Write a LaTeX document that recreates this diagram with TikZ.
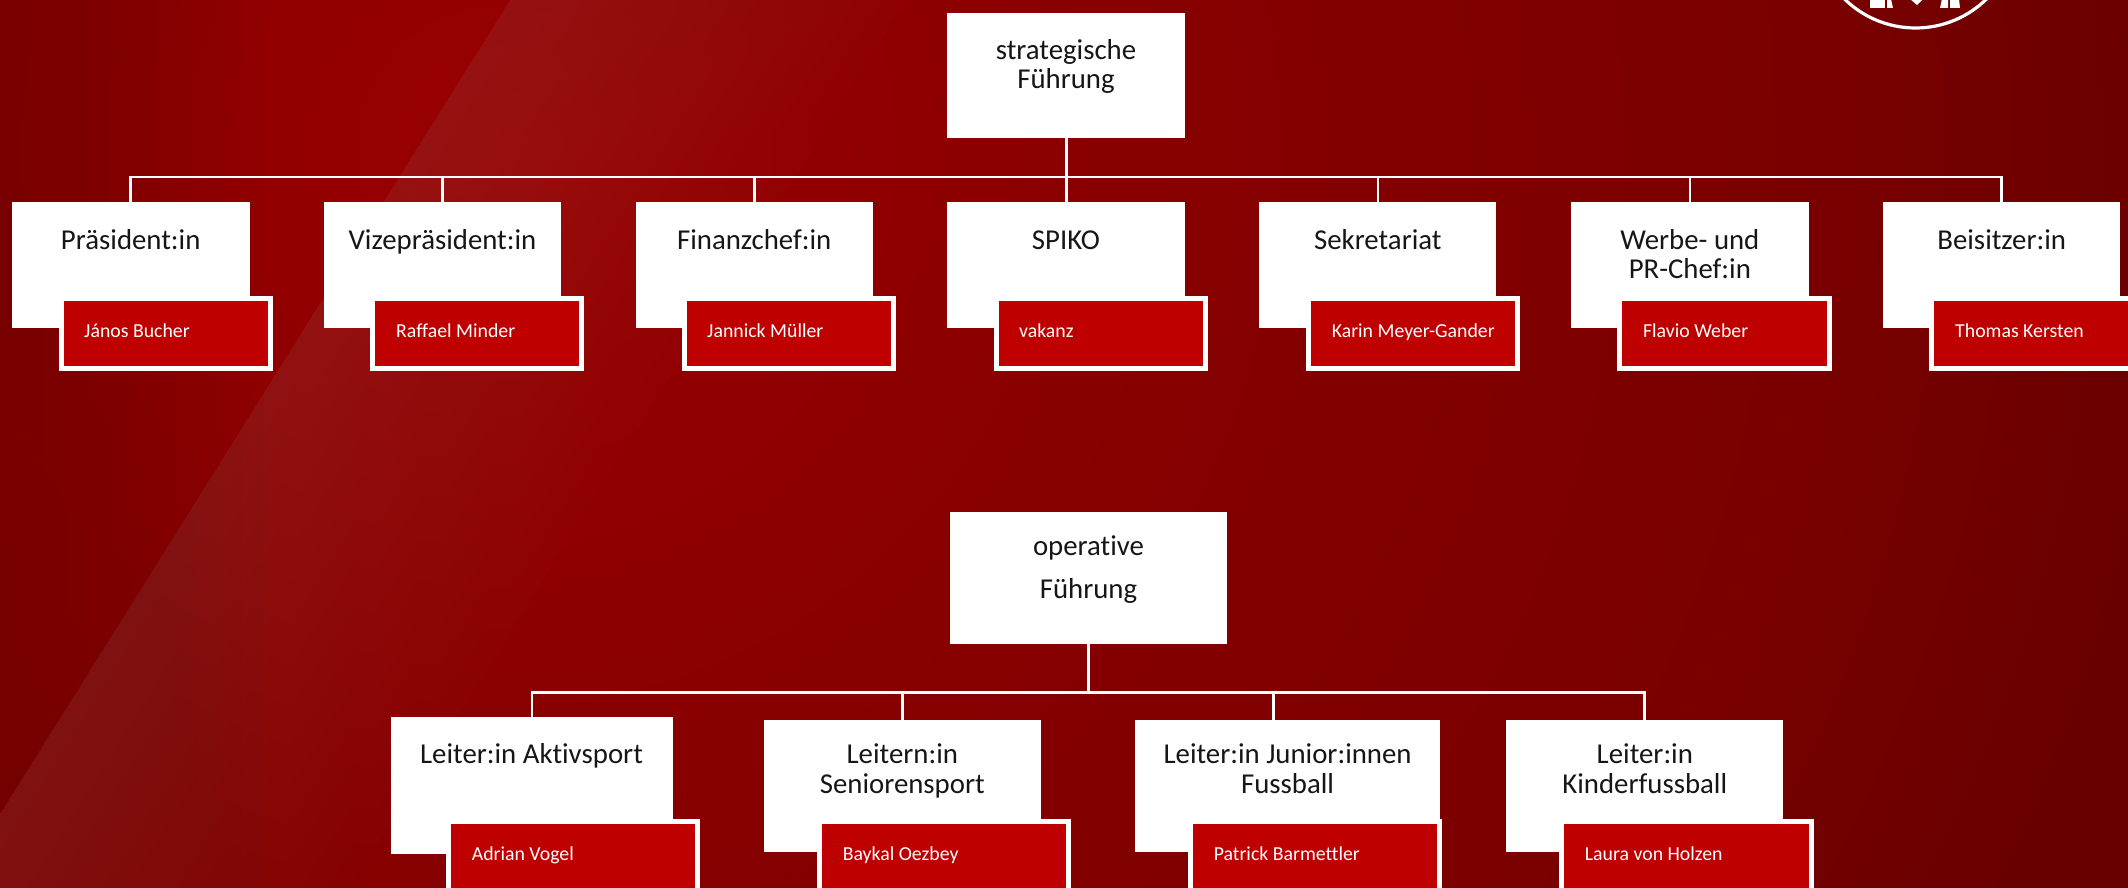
\documentclass[tikz,border=0pt]{standalone}
\usepackage{fontspec}
\setmainfont{Carlito}[Ligatures=NoCommon]
\definecolor{bgA}{HTML}{980000}
\definecolor{bgB}{HTML}{8C0000}
\definecolor{bgC}{HTML}{840000}
\definecolor{bgD}{HTML}{7A0000}
\definecolor{bgE}{HTML}{680000}
\definecolor{redfill}{HTML}{BF0000}
\definecolor{inktext}{HTML}{161616}
\pgfdeclareradialshading{bgrad}{\pgfpoint{0bp}{0bp}}{color(0bp)=(bgA); color(6.25bp)=(bgB); color(10bp)=(bgC); color(16.25bp)=(bgD); color(21.25bp)=(bgE); color(50bp)=(bgE)}
\tikzset{
  whitebox/.style={fill=white,draw=none,inner sep=0pt,outer sep=0pt},
  redbox/.style={fill=redfill,draw=white,line width=5pt,inner sep=0pt,outer sep=0pt},
  titletext/.style={anchor=base,inner sep=0pt,text=inktext,font=\fontsize{28.8}{29}\selectfont},
  nametext/.style={anchor=base west,inner sep=0pt,text=white,font=\fontsize{19.8}{20}\selectfont},
  conn/.style={draw=white,line width=2.6pt},
}
% name, style, x1, y1, x2, y2
\newcommand{\rectnode}[6]{\node[#2,minimum width={(#5-#3)*1pt},minimum height={(#6-#4)*1pt}] (#1) at ({(#3+#5)/2},{(#4+#6)/2}) {};}
\begin{document}
\begin{tikzpicture}[x=1pt,y=-1pt]
\useasboundingbox (0,0) rectangle (2128,888);
\clip (0,0) rectangle (2128,888);
% background
\shade[shading=bgrad] (500,150) circle (2000);
\foreach \i in {1,...,12}{
  \fill[black,opacity=0.0065] (0,0) rectangle ({\i*22},888);
}
\foreach \i in {1,...,16}{
  \begin{scope}[shift={(510,0)},rotate=-32.07]
    \fill[white,opacity=0.0072] (0,-1400) rectangle ({\i*21},1400);
  \end{scope}
}
% logo
\draw[white,line width=3.2pt] (1915.5,-73.5) circle (101.5);
\fill[white] (1870,-1)--(1885,-1)--(1885,8)--(1870,8)--cycle;
\fill[white] (1887,-1)--(1891,-1)--(1893,8)--(1887,8)--cycle;
\fill[white] (1910,-1)--(1923,-1)--(1917,5)--cycle;
\fill[white] (1942,-1)--(1948,-1)--(1948,8)--(1940,8)--cycle;
\fill[white] (1950,-1)--(1959,-1)--(1960,8)--(1950,8)--cycle;
% bus coordinates
\coordinate (busT) at (0,177);
\coordinate (busB) at (0,692.7);
% boxes top
\rectnode{strat}{whitebox}{947.4}{12.7}{1185.2}{138}
\rectnode{praes}{whitebox}{12}{202}{249.5}{328}
\rectnode{vize}{whitebox}{324}{202}{561}{328}
\rectnode{finanz}{whitebox}{635.5}{202}{873}{328}
\rectnode{spiko}{whitebox}{947.4}{202}{1185.2}{328}
\rectnode{sekr}{whitebox}{1259.2}{202}{1496.4}{328}
\rectnode{werbe}{whitebox}{1571}{202}{1808.7}{328}
\rectnode{beis}{whitebox}{1883}{202}{2120.3}{328}
% boxes bottom
\rectnode{oper}{whitebox}{950}{512}{1227}{644}
\rectnode{aktiv}{whitebox}{391.2}{717.3}{672.7}{854}
\rectnode{senior}{whitebox}{764}{720}{1041}{851.7}
\rectnode{junior}{whitebox}{1135}{720}{1440}{851.7}
\rectnode{kinder}{whitebox}{1506.1}{720}{1783}{851.7}
\coordinate (juniorTop) at (1273.3,720);
% connectors
\draw[conn] (strat.south) -- (strat.south |- busT);
\draw[conn] (praes.north) |- (beis.north |- busT) -- (beis.north);
\foreach \n in {vize,finanz,spiko,sekr,werbe}{
  \draw[conn] (\n.north) -- (\n.north |- busT);
}
\draw[conn] (oper.south) -- (oper.south |- busB);
\draw[conn] (aktiv.north) |- (kinder.north |- busB) -- (kinder.north);
\draw[conn] (senior.north) -- (senior.north |- busB);
\draw[conn] (juniorTop) -- (juniorTop |- busB);
% red boxes top
\rectnode{rpraes}{redbox}{61}{298.5}{270.3}{368.2}
\rectnode{rvize}{redbox}{372.5}{298.5}{581.9}{368.2}
\rectnode{rfinanz}{redbox}{684.5}{298.5}{893.3}{368.2}
\rectnode{rspiko}{redbox}{996.4}{298.5}{1205.8}{368.2}
\rectnode{rsekr}{redbox}{1308.5}{298.5}{1517.5}{368.2}
\rectnode{rwerbe}{redbox}{1619.8}{298.5}{1829.5}{368.2}
\rectnode{rbeis}{redbox}{1931.8}{298.5}{2170}{368.2}
% red boxes bottom
\rectnode{raktiv}{redbox}{448.8}{821.8}{697.8}{930}
\rectnode{rsenior}{redbox}{819.5}{821.8}{1068.3}{930}
\rectnode{rjunior}{redbox}{1190.9}{821.8}{1439.4}{930}
\rectnode{rkinder}{redbox}{1561.9}{821.8}{1811}{930}
% titles
\node[titletext] (t1a) at (1066,59.3) {strategische};
\node[titletext] (t1b) at (1066,88.8) {Führung};
\node[titletext] (t2) at (130.7,249) {Präsident:in};
\node[titletext] (t3) at (442.5,249) {Vizepräsident:in};
\node[titletext] (t4) at (754.2,249) {Finanzchef:in};
\node[titletext] (t5) at (1066,249) {SPIKO};
\node[titletext] (t6) at (1377.8,249) {Sekretariat};
\node[titletext] (t7a) at (1689.8,249) {Werbe- und};
\node[titletext] (t7b) at (1689.8,278.5) {PR-Chef:in};
\node[titletext] (t8) at (2001.7,249) {Beisitzer:in};
\node[titletext] (t9a) at (1088.5,555) {operative};
\node[titletext] (t9b) at (1088.5,598) {Führung};
\node[titletext] (t10) at (531.5,763.3) {Leiter:in Aktivsport};
\node[titletext] (t11a) at (902.3,763.3) {Leitern:in};
\node[titletext] (t11b) at (902.3,793) {Seniorensport};
\node[titletext] (t12a) at (1287.6,763.3) {Leiter:in Junior:innen};
\node[titletext] (t12b) at (1287.6,793) {Fussball};
\node[titletext] (t13a) at (1644.8,763.3) {Leiter:in};
\node[titletext] (t13b) at (1644.8,793) {Kinderfussball};
% names
\node[nametext] (n1) at (84,337) {János Bucher};
\node[nametext] (n2) at (396,337) {Raffael Minder};
\node[nametext] (n3) at (707,337) {Jannick Müller};
\node[nametext] (n4) at (1018.9,337) {vakanz};
\node[nametext] (n5) at (1331.6,337) {Karin Meyer-Gander};
\node[nametext] (n6) at (1642.9,337) {Flavio Weber};
\node[nametext] (n7) at (1955,337) {Thomas Kersten};
\node[nametext] (n8) at (471.6,860.7) {Adrian Vogel};
\node[nametext] (n9) at (842.6,860.7) {Baykal Oezbey};
\node[nametext] (n10) at (1213.6,860.7) {Patrick Barmettler};
\node[nametext] (n11) at (1584.7,860.7) {Laura von Holzen};
\end{tikzpicture}
\end{document}
